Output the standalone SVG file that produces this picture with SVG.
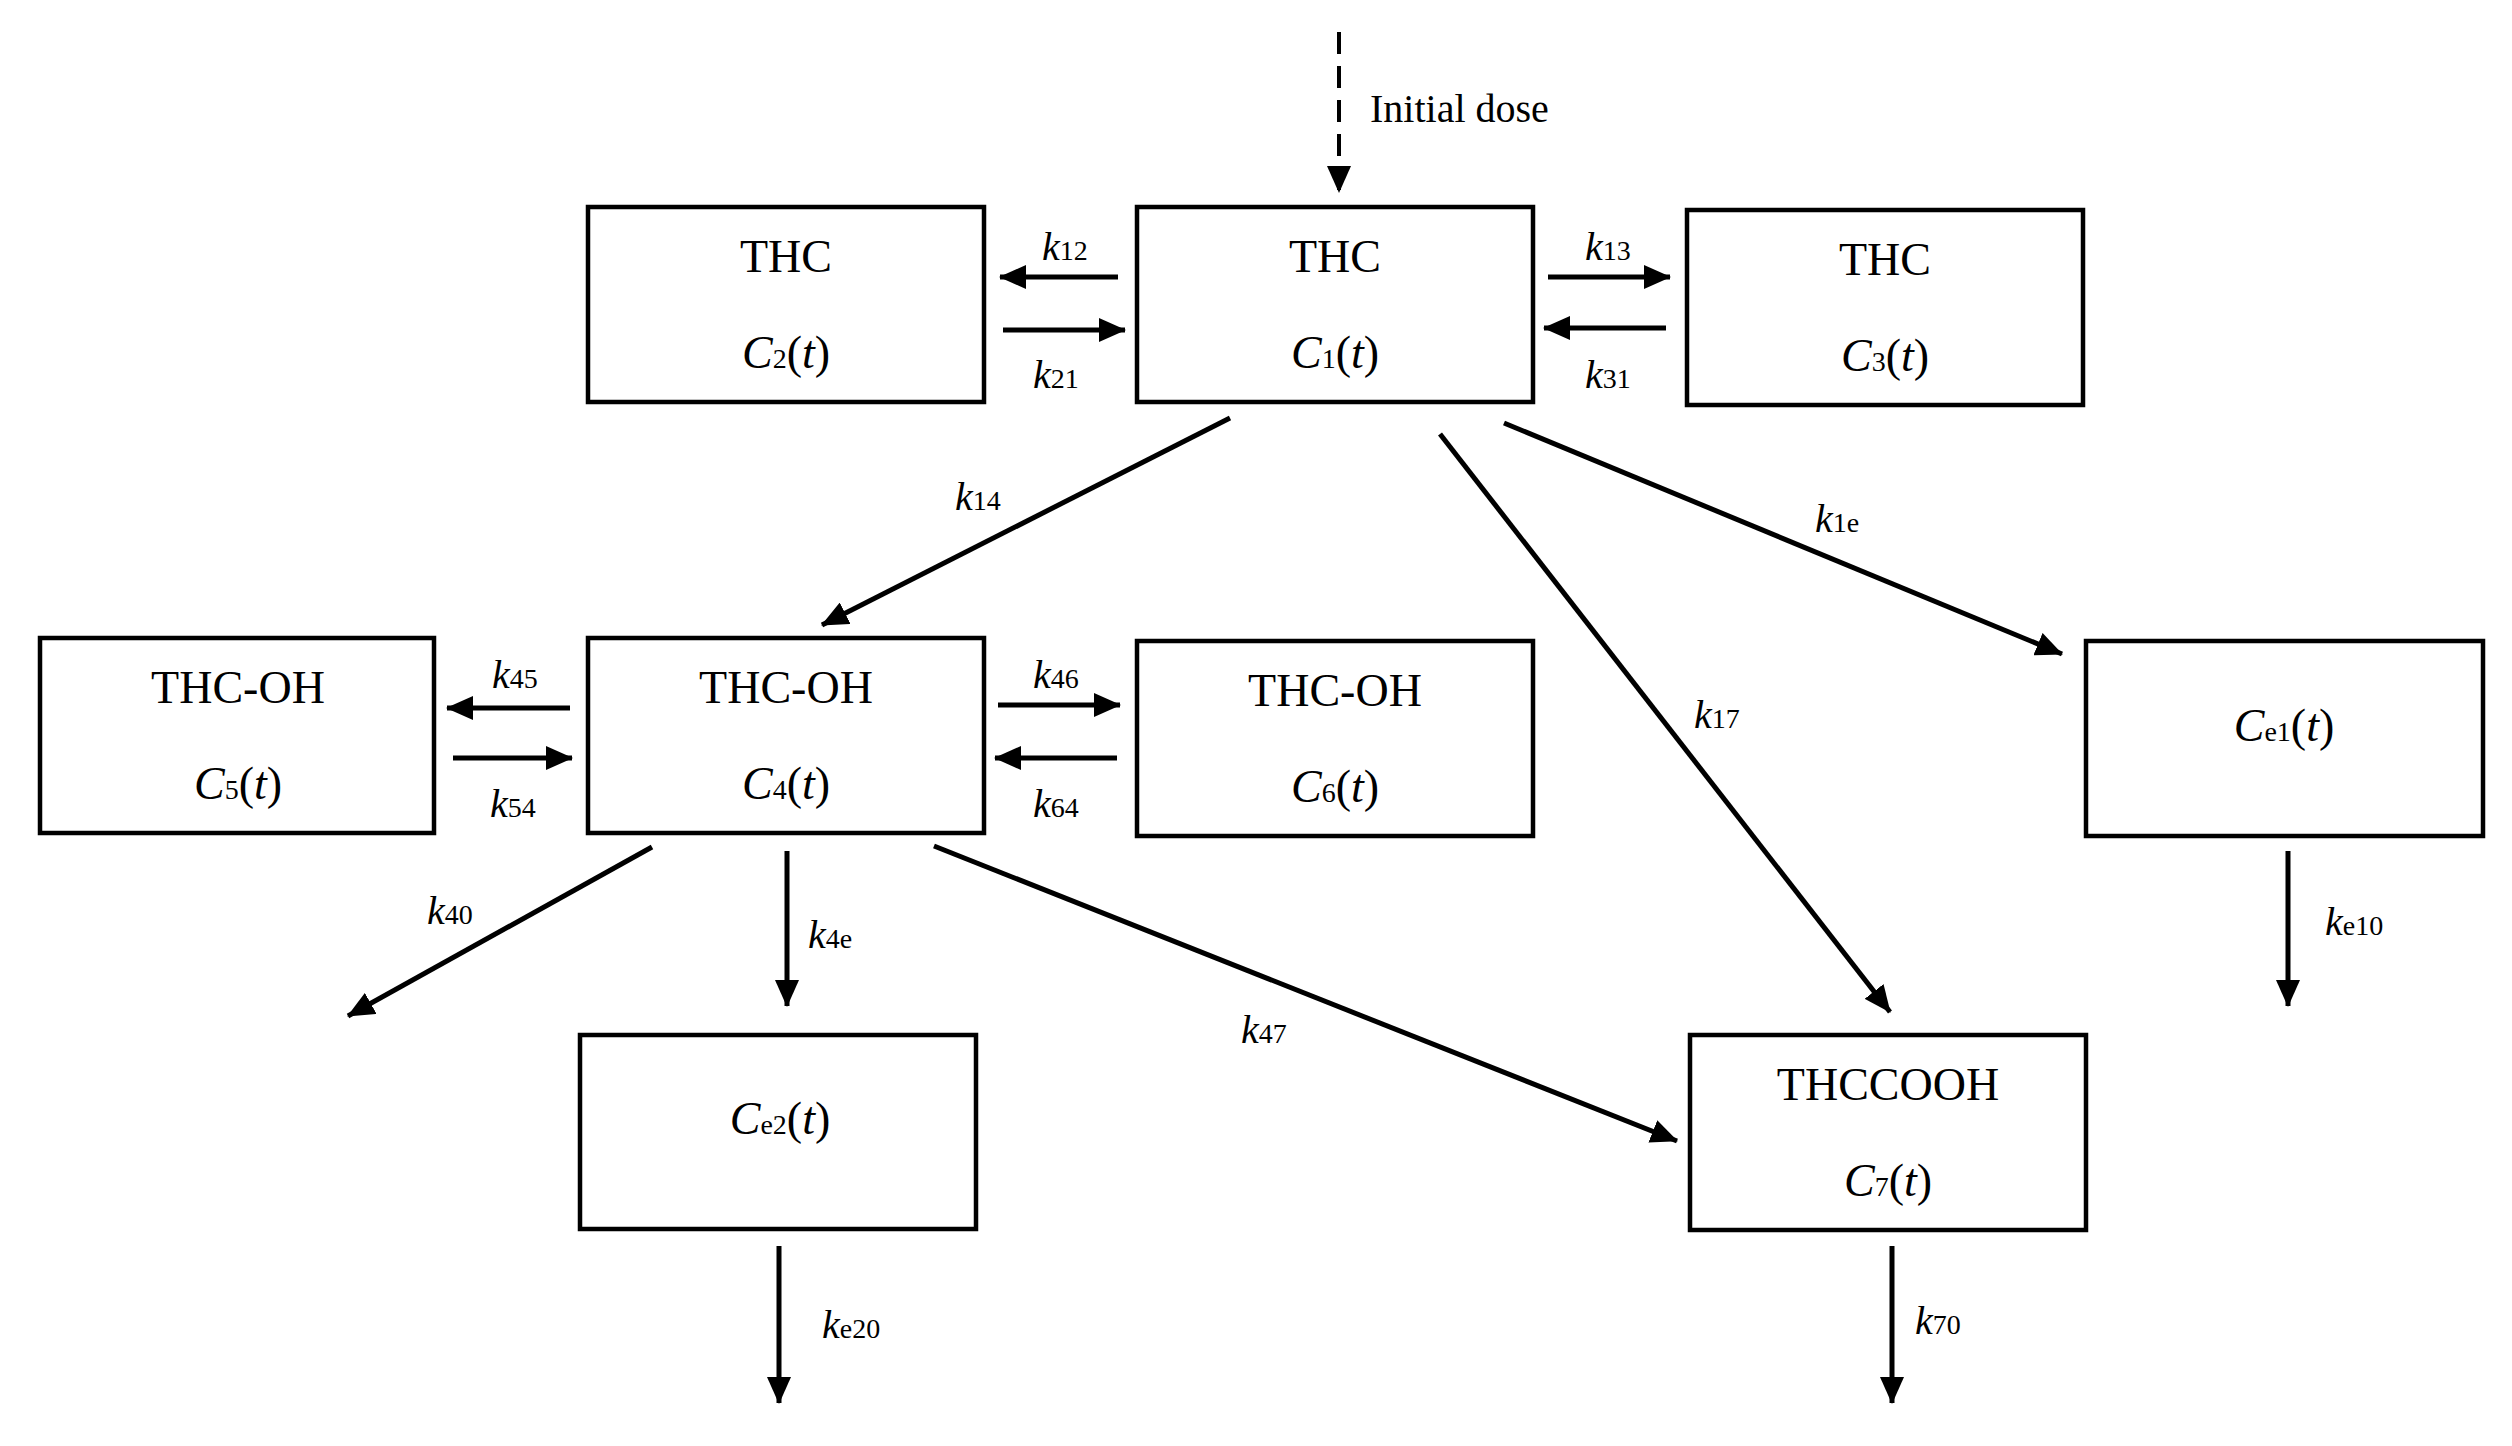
<svg xmlns="http://www.w3.org/2000/svg" width="2512" height="1446" viewBox="0 0 2512 1446">
<style>
.box{fill:#fff;stroke:#000;stroke-width:4.5}
.t{font-family:"Liberation Serif",serif;font-size:46px;text-anchor:middle;fill:#000}
.l{font-family:"Liberation Serif",serif;font-size:40px;fill:#000}
.s{font-size:28px;font-style:normal}
.i{font-style:italic}
.c line{stroke:#000;stroke-width:5;marker-end:url(#ah)}
</style>
<defs>
<marker id="ah" markerUnits="userSpaceOnUse" markerWidth="28" markerHeight="24" refX="26" refY="12" orient="auto"><path d="M0,0 L27,12 L0,24 z" fill="#000"/></marker>
</defs>
<rect width="2512" height="1446" fill="#fff"/>
<g id="c1"><rect class="box" x="1137" y="207" width="396" height="195"/><text class="t" x="1335" y="272">THC</text><text class="t" x="1335" y="368"><tspan class="i">C</tspan><tspan class="s">1</tspan>(<tspan class="i">t</tspan>)</text></g>
<g id="c2"><rect class="box" x="588" y="207" width="396" height="195"/><text class="t" x="786" y="272">THC</text><text class="t" x="786" y="368"><tspan class="i">C</tspan><tspan class="s">2</tspan>(<tspan class="i">t</tspan>)</text></g>
<g id="c3"><rect class="box" x="1687" y="210" width="396" height="195"/><text class="t" x="1885" y="275">THC</text><text class="t" x="1885" y="371"><tspan class="i">C</tspan><tspan class="s">3</tspan>(<tspan class="i">t</tspan>)</text></g>
<g id="c5"><rect class="box" x="40" y="638" width="394" height="195"/><text class="t" x="238" y="703">THC-OH</text><text class="t" x="238" y="799"><tspan class="i">C</tspan><tspan class="s">5</tspan>(<tspan class="i">t</tspan>)</text></g>
<g id="c4"><rect class="box" x="588" y="638" width="396" height="195"/><text class="t" x="786" y="703">THC-OH</text><text class="t" x="786" y="799"><tspan class="i">C</tspan><tspan class="s">4</tspan>(<tspan class="i">t</tspan>)</text></g>
<g id="c6"><rect class="box" x="1137" y="641" width="396" height="195"/><text class="t" x="1335" y="706">THC-OH</text><text class="t" x="1335" y="802"><tspan class="i">C</tspan><tspan class="s">6</tspan>(<tspan class="i">t</tspan>)</text></g>
<g id="ce1"><rect class="box" x="2086" y="641" width="397" height="195"/><text class="t" x="2284" y="741"><tspan class="i">C</tspan><tspan class="s">e1</tspan>(<tspan class="i">t</tspan>)</text></g>
<g id="ce2"><rect class="box" x="580" y="1035" width="396" height="194"/><text class="t" x="780" y="1134"><tspan class="i">C</tspan><tspan class="s">e2</tspan>(<tspan class="i">t</tspan>)</text></g>
<g id="c7"><rect class="box" x="1690" y="1035" width="396" height="195"/><text class="t" x="1888" y="1100">THCCOOH</text><text class="t" x="1888" y="1196"><tspan class="i">C</tspan><tspan class="s">7</tspan>(<tspan class="i">t</tspan>)</text></g>
<g id="connectors" class="c">
<line x1="1339" y1="32" x2="1339" y2="192" stroke-dasharray="22,12" style="stroke-width:4"/>
<line x1="1118" y1="277" x2="1000" y2="277"/>
<line x1="1003" y1="330" x2="1125" y2="330"/>
<line x1="1548" y1="277" x2="1670" y2="277"/>
<line x1="1666" y1="328" x2="1544" y2="328"/>
<line x1="570" y1="708" x2="447" y2="708"/>
<line x1="453" y1="758" x2="572" y2="758"/>
<line x1="998" y1="705" x2="1120" y2="705"/>
<line x1="1117" y1="758" x2="995" y2="758"/>
<line x1="1230" y1="418" x2="822" y2="625"/>
<line x1="1440" y1="434" x2="1890" y2="1012"/>
<line x1="1504" y1="423" x2="2062" y2="654"/>
<line x1="652" y1="847" x2="348" y2="1016"/>
<line x1="787" y1="851" x2="787" y2="1006"/>
<line x1="934" y1="846" x2="1677" y2="1141"/>
<line x1="2288" y1="851" x2="2288" y2="1006"/>
<line x1="779" y1="1246" x2="779" y2="1403"/>
<line x1="1892" y1="1246" x2="1892" y2="1403"/>
</g>
<g id="labels">
<text class="l" x="1370" y="122">Initial dose</text>
<text class="l" x="1042" y="260"><tspan class="i">k</tspan><tspan class="s">12</tspan></text>
<text class="l" x="1033" y="388"><tspan class="i">k</tspan><tspan class="s">21</tspan></text>
<text class="l" x="1585" y="260"><tspan class="i">k</tspan><tspan class="s">13</tspan></text>
<text class="l" x="1585" y="388"><tspan class="i">k</tspan><tspan class="s">31</tspan></text>
<text class="l" x="492" y="688"><tspan class="i">k</tspan><tspan class="s">45</tspan></text>
<text class="l" x="490" y="817"><tspan class="i">k</tspan><tspan class="s">54</tspan></text>
<text class="l" x="1033" y="688"><tspan class="i">k</tspan><tspan class="s">46</tspan></text>
<text class="l" x="1033" y="817"><tspan class="i">k</tspan><tspan class="s">64</tspan></text>
<text class="l" x="955" y="510"><tspan class="i">k</tspan><tspan class="s">14</tspan></text>
<text class="l" x="1694" y="728"><tspan class="i">k</tspan><tspan class="s">17</tspan></text>
<text class="l" x="1815" y="532"><tspan class="i">k</tspan><tspan class="s">1e</tspan></text>
<text class="l" x="427" y="924"><tspan class="i">k</tspan><tspan class="s">40</tspan></text>
<text class="l" x="808" y="948"><tspan class="i">k</tspan><tspan class="s">4e</tspan></text>
<text class="l" x="1241" y="1043"><tspan class="i">k</tspan><tspan class="s">47</tspan></text>
<text class="l" x="2325" y="935"><tspan class="i">k</tspan><tspan class="s">e10</tspan></text>
<text class="l" x="822" y="1338"><tspan class="i">k</tspan><tspan class="s">e20</tspan></text>
<text class="l" x="1915" y="1334"><tspan class="i">k</tspan><tspan class="s">70</tspan></text>
</g>
</svg>
